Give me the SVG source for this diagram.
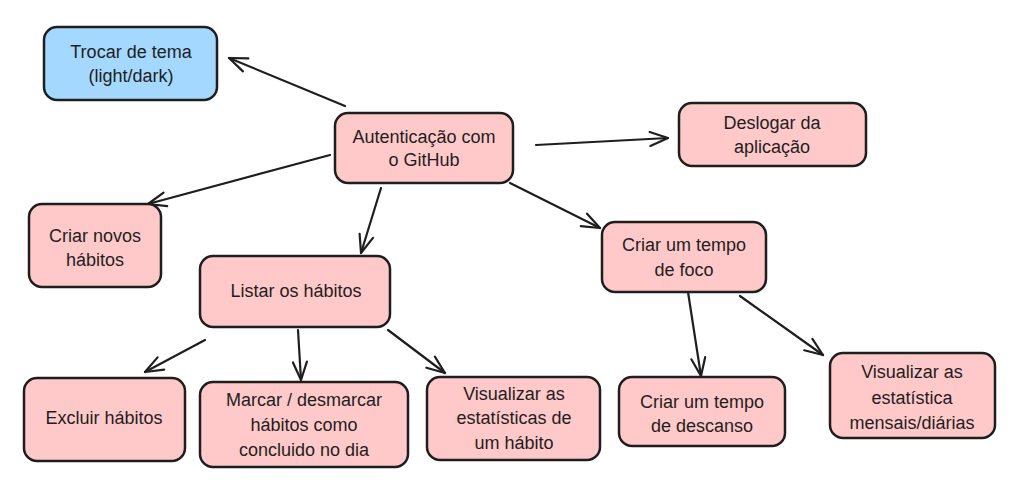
<svg xmlns="http://www.w3.org/2000/svg" width="1022" height="491" viewBox="0 0 1022 491">
<defs>
<marker id="arr" viewBox="-18 -9 20 18" refX="0" refY="0" markerWidth="20" markerHeight="18" markerUnits="userSpaceOnUse" orient="auto" overflow="visible">
<path d="M -18 -7 L 0 0 L -18 7" fill="none" stroke="#1e1e1e" stroke-width="2.2" stroke-linecap="round" stroke-linejoin="round"/>
</marker>
<style>
.n{fill:#ffc9c9;stroke:#1e1e1e;stroke-width:2.5}
.b{fill:#a5d8ff;stroke:#1e1e1e;stroke-width:2.5}
.t{font-family:"Liberation Sans","DejaVu Sans",sans-serif;font-size:18px;fill:#1e1e1e;text-anchor:middle}
.e{fill:none;stroke:#1e1e1e;stroke-width:2.2;stroke-linecap:round;marker-end:url(#arr)}
</style>
</defs>
<rect width="1022" height="491" fill="#ffffff"/>
<g id="connectors">
<path class="e" d="M345 106 L229 58"/>
<path class="e" d="M330 155 L148 204"/>
<path class="e" d="M536 145 L668 138"/>
<path class="e" d="M381 188 L361 253"/>
<path class="e" d="M510 183 L600 228"/>
<path class="e" d="M205 340 L145 372"/>
<path class="e" d="M298 330 L301 380"/>
<path class="e" d="M388 330 L445 373"/>
<path class="e" d="M688 292 L701 376"/>
<path class="e" d="M740 296 L823 355"/>
</g>
<g id="trocar-tema">
<rect class="b" x="44" y="27" width="173" height="73" rx="13"/>
<text class="t" x="131" y="58">Trocar de tema</text>
<text class="t" x="131" y="82">(light/dark)</text>
</g>
<g id="autenticacao">
<rect class="n" x="335" y="113" width="178" height="70" rx="13"/>
<text class="t" x="424" y="143">Autenticação com</text>
<text class="t" x="424" y="166">o GitHub</text>
</g>
<g id="deslogar">
<rect class="n" x="679" y="103" width="187" height="63" rx="13"/>
<text class="t" x="772" y="129">Deslogar da</text>
<text class="t" x="772" y="153">aplicação</text>
</g>
<g id="criar-novos">
<rect class="n" x="29" y="204" width="132" height="83" rx="13"/>
<text class="t" x="95" y="242">Criar novos</text>
<text class="t" x="95" y="266">hábitos</text>
</g>
<g id="listar">
<rect class="n" x="200" y="256" width="190" height="71" rx="13"/>
<text class="t" x="296" y="297">Listar os hábitos</text>
</g>
<g id="tempo-foco">
<rect class="n" x="602" y="222" width="164" height="70" rx="13"/>
<text class="t" x="684" y="251">Criar um tempo</text>
<text class="t" x="684" y="276">de foco</text>
</g>
<g id="excluir">
<rect class="n" x="24" y="378" width="161" height="83" rx="13"/>
<text class="t" x="104" y="424">Excluir hábitos</text>
</g>
<g id="marcar">
<rect class="n" x="200" y="382" width="208" height="85" rx="13"/>
<text class="t" x="304" y="406">Marcar / desmarcar</text>
<text class="t" x="304" y="431">hábitos como</text>
<text class="t" x="304" y="456">concluido no dia</text>
</g>
<g id="visualizar-habito">
<rect class="n" x="427" y="377" width="173" height="83" rx="13"/>
<text class="t" x="514" y="400">Visualizar as</text>
<text class="t" x="514" y="424">estatísticas de</text>
<text class="t" x="514" y="449">um hábito</text>
</g>
<g id="tempo-descanso">
<rect class="n" x="619" y="377" width="166" height="69" rx="13"/>
<text class="t" x="702" y="408">Criar um tempo</text>
<text class="t" x="702" y="432">de descanso</text>
</g>
<g id="visualizar-mensais">
<rect class="n" x="830" y="353" width="165" height="85" rx="13"/>
<text class="t" x="912" y="378">Visualizar as</text>
<text class="t" x="912" y="404">estatística</text>
<text class="t" x="912" y="429">mensais/diárias</text>
</g>
</svg>
